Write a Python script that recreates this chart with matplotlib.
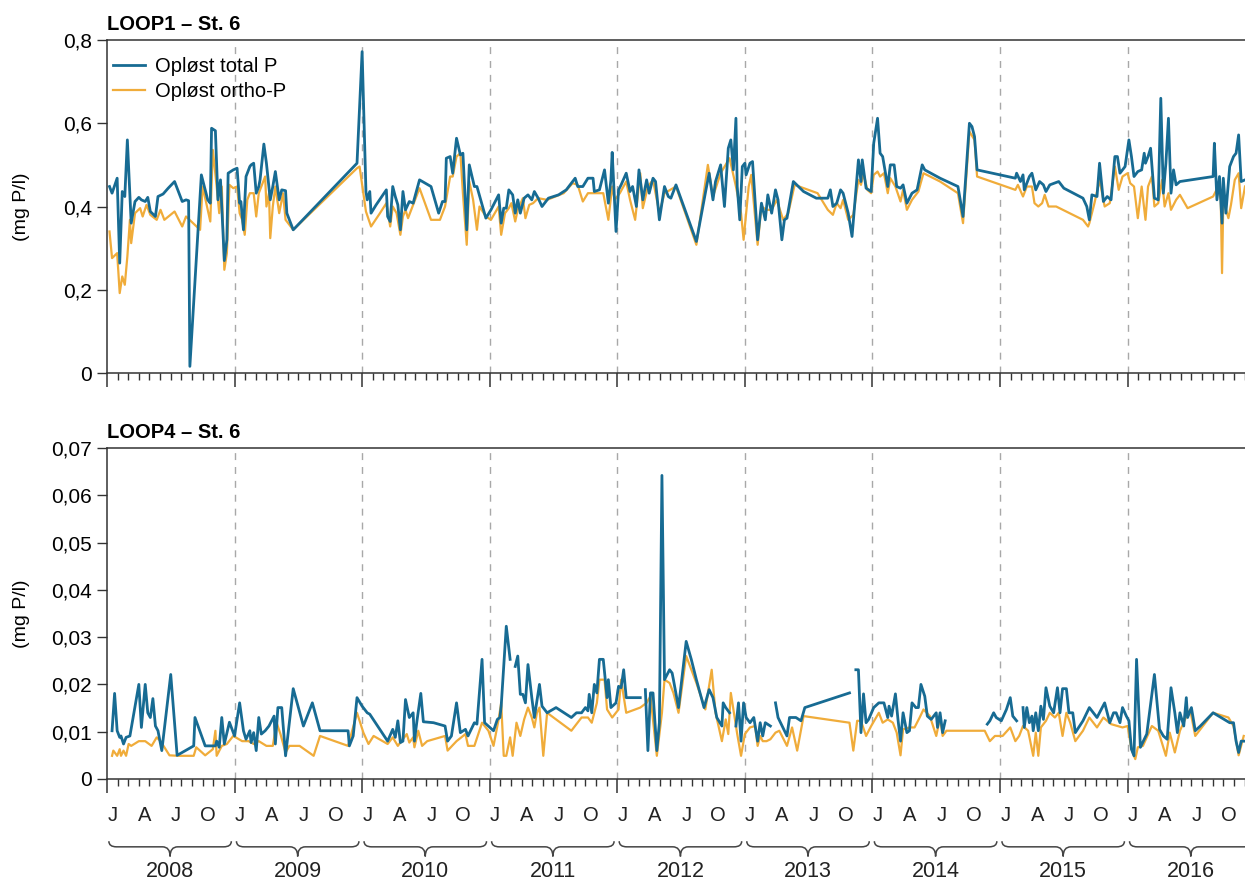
import numpy as np
import matplotlib
matplotlib.use("Agg")
import matplotlib.pyplot as plt
from matplotlib.path import Path
from matplotlib.patches import PathPatch
from matplotlib.transforms import blended_transform_factory

plt.rcParams['font.family'] = ['Liberation Sans', 'DejaVu Sans']

nan = float('nan')

years = list(range(2008, 2017))
month_letters = ['J', 'A', 'J', 'O']
series_labels = ['Opløst total P', 'Opløst ortho-P']
titles = ['LOOP1 – St. 6', 'LOOP4 – St. 6']
ylabel = '(mg P/l)'

# LOOP1 - dissolved total P (decimal year, mg P/l)
loop1_tp_t = [2008.02, 2008.04, 2008.08, 2008.10, 2008.12, 2008.14, 2008.16, 2008.19, 2008.22, 2008.25,
              2008.27, 2008.30, 2008.32, 2008.34, 2008.38, 2008.40, 2008.44, 2008.48, 2008.53, 2008.59,
              2008.62, 2008.64, 2008.65, 2008.74, 2008.79, 2008.81, 2008.82, 2008.85, 2008.87, 2008.89,
              2008.92, 2008.94, 2008.95, 2008.99,
              2009.02, 2009.04, 2009.05, 2009.07, 2009.09, 2009.12, 2009.13, 2009.15, 2009.17, 2009.19,
              2009.20, 2009.23, 2009.25, 2009.28, 2009.30, 2009.32, 2009.35, 2009.37, 2009.40, 2009.41,
              2009.46, 2009.96,
              2010.00, 2010.03, 2010.04, 2010.06, 2010.07, 2010.11, 2010.19, 2010.20, 2010.22, 2010.24,
              2010.26, 2010.28, 2010.30, 2010.32, 2010.34, 2010.37, 2010.40, 2010.45, 2010.54, 2010.60,
              2010.63, 2010.65, 2010.66, 2010.69, 2010.71, 2010.74, 2010.77, 2010.79, 2010.82, 2010.84,
              2010.88, 2010.90, 2010.97,
              2011.01, 2011.07, 2011.09, 2011.11, 2011.13, 2011.15, 2011.18, 2011.20, 2011.22, 2011.24,
              2011.27, 2011.30, 2011.33, 2011.35, 2011.38, 2011.41, 2011.46, 2011.54, 2011.60, 2011.67,
              2011.69, 2011.73, 2011.77, 2011.81, 2011.82, 2011.86, 2011.90, 2011.93, 2011.95, 2011.96,
              2011.99,
              2012.01, 2012.03, 2012.07, 2012.10, 2012.12, 2012.15, 2012.17, 2012.20, 2012.23, 2012.25,
              2012.28, 2012.30, 2012.33, 2012.37, 2012.40, 2012.42, 2012.46, 2012.62, 2012.69, 2012.72,
              2012.75, 2012.77, 2012.81, 2012.84, 2012.87, 2012.89, 2012.91, 2012.93, 2012.94, 2012.96,
              2012.98,
              2013.00, 2013.01, 2013.04, 2013.06, 2013.10, 2013.13, 2013.16, 2013.18, 2013.21, 2013.24,
              2013.26, 2013.29, 2013.31, 2013.33, 2013.38, 2013.46, 2013.56, 2013.65, 2013.67, 2013.69,
              2013.72, 2013.75, 2013.77, 2013.81, 2013.84, 2013.89, 2013.91, 2013.92, 2013.95, 2013.99,
              2014.01, 2014.04, 2014.06, 2014.08, 2014.12, 2014.14, 2014.17, 2014.19, 2014.22, 2014.24,
              2014.27, 2014.31, 2014.35, 2014.39, 2014.41, 2014.53, 2014.67, 2014.71, 2014.76, 2014.78,
              2014.80, 2014.82,
              2015.00, 2015.12, 2015.13, 2015.16, 2015.18, 2015.19, 2015.23, 2015.25, 2015.28, 2015.31,
              2015.34, 2015.36, 2015.39, 2015.46, 2015.50, 2015.65, 2015.68, 2015.70, 2015.72, 2015.76,
              2015.78, 2015.81, 2015.84, 2015.87, 2015.90, 2015.92, 2015.94, 2015.98,
              2016.01, 2016.03, 2016.05, 2016.08, 2016.11, 2016.13, 2016.14, 2016.16, 2016.18, 2016.21,
              2016.24, 2016.26, 2016.28, 2016.30, 2016.32, 2016.34, 2016.36, 2016.38, 2016.41, 2016.67,
              2016.68, 2016.70, 2016.72, 2016.74, 2016.75, 2016.77, 2016.80, 2016.83, 2016.85, 2016.87,
              2016.89, 2016.92]
loop1_tp = [0.448, 0.432, 0.468, 0.264, 0.436, 0.424, 0.56, 0.36, 0.412, 0.422,
            0.416, 0.412, 0.422, 0.388, 0.376, 0.424, 0.43, 0.444, 0.46, 0.412,
            0.416, 0.414, 0.016, 0.476, 0.416, 0.408, 0.588, 0.582, 0.416, 0.464,
            0.27, 0.32, 0.48, 0.488,
            0.492, 0.408, 0.412, 0.344, 0.472, 0.496, 0.5, 0.504, 0.432, 0.448,
            0.464, 0.55, 0.504, 0.416, 0.448, 0.484, 0.416, 0.44, 0.438, 0.384,
            0.344, 0.504,
            0.772, 0.436, 0.416, 0.436, 0.384, 0.404, 0.44, 0.376, 0.364, 0.448,
            0.424, 0.404, 0.344, 0.436, 0.392, 0.412, 0.408, 0.464, 0.448, 0.384,
            0.412, 0.412, 0.516, 0.52, 0.48, 0.564, 0.524, 0.528, 0.344, 0.50,
            0.448, 0.448, 0.372,
            0.392, 0.428, 0.36, 0.396, 0.396, 0.44, 0.428, 0.384, 0.416, 0.384,
            0.42, 0.428, 0.416, 0.436, 0.42, 0.40, 0.42, 0.428, 0.44, 0.468,
            0.448, 0.448, 0.468, 0.468, 0.436, 0.44, 0.488, 0.408, 0.464, 0.53,
            0.34,
            0.44, 0.452, 0.48, 0.436, 0.448, 0.40, 0.488, 0.416, 0.464, 0.432,
            0.468, 0.46, 0.368, 0.448, 0.424, 0.42, 0.452, 0.316, 0.432, 0.48,
            0.416, 0.46, 0.50, 0.40, 0.54, 0.56, 0.488, 0.612, 0.448, 0.368,
            0.496,
            0.504, 0.476, 0.504, 0.508, 0.32, 0.408, 0.368, 0.428, 0.384, 0.44,
            0.416, 0.32, 0.368, 0.372, 0.46, 0.436, 0.42, 0.42, 0.44, 0.40,
            0.408, 0.44, 0.432, 0.384, 0.328, 0.512, 0.46, 0.512, 0.444, 0.436,
            0.552, 0.612, 0.528, 0.52, 0.448, 0.50, 0.50, 0.448, 0.444, 0.452,
            0.408, 0.432, 0.44, 0.50, 0.488, 0.468, 0.448, 0.376, 0.60, 0.592,
            0.568, 0.488,
            0.476, 0.468, 0.48, 0.46, 0.476, 0.44, 0.472, 0.48, 0.44, 0.46,
            0.452, 0.436, 0.452, 0.46, 0.444, 0.42, 0.40, 0.368, 0.428, 0.424,
            0.504, 0.412, 0.424, 0.416, 0.52, 0.52, 0.48, 0.496,
            0.56, 0.52, 0.472, 0.484, 0.488, 0.528, 0.504, 0.52, 0.54, 0.42,
            0.416, 0.66, 0.432, 0.504, 0.612, 0.432, 0.488, 0.452, 0.46, 0.472,
            0.552, 0.416, 0.472, 0.36, 0.468, 0.384, 0.496, 0.52, 0.528, 0.572,
            0.46, 0.464]

# LOOP1 - dissolved ortho-P
loop1_op_t = [2008.02, 2008.04, 2008.08, 2008.10, 2008.12, 2008.14, 2008.16, 2008.18, 2008.19, 2008.22,
              2008.26, 2008.28, 2008.31, 2008.34, 2008.39, 2008.42, 2008.45, 2008.53, 2008.59, 2008.62,
              2008.73, 2008.75, 2008.81, 2008.83, 2008.86, 2008.88, 2008.90, 2008.92, 2008.94, 2008.96,
              2008.99,
              2009.02, 2009.04, 2009.06, 2009.08, 2009.10, 2009.12, 2009.15, 2009.17, 2009.19, 2009.24,
              2009.25, 2009.27, 2009.28, 2009.30, 2009.32, 2009.35, 2009.38, 2009.40, 2009.46, 2009.96,
              2009.98,
              2010.03, 2010.07, 2010.14, 2010.19, 2010.22, 2010.24, 2010.27, 2010.30, 2010.32, 2010.34,
              2010.36, 2010.45, 2010.54, 2010.61, 2010.65, 2010.69, 2010.71, 2010.74, 2010.77, 2010.79,
              2010.82, 2010.84, 2010.87, 2010.90, 2010.92, 2010.97,
              2011.01, 2011.07, 2011.09, 2011.12, 2011.15, 2011.17, 2011.20, 2011.22, 2011.26, 2011.28,
              2011.31, 2011.34, 2011.38, 2011.45, 2011.58, 2011.65, 2011.69, 2011.73, 2011.77, 2011.82,
              2011.89, 2011.93, 2011.96, 2011.98,
              2012.02, 2012.07, 2012.10, 2012.14, 2012.18, 2012.20, 2012.24, 2012.28, 2012.33, 2012.37,
              2012.46, 2012.62, 2012.71, 2012.75, 2012.81, 2012.88, 2012.93, 2012.97, 2012.99,
              2013.03, 2013.05, 2013.10, 2013.13, 2013.17, 2013.21, 2013.25, 2013.30, 2013.34, 2013.39,
              2013.57, 2013.65, 2013.69, 2013.72, 2013.75, 2013.77, 2013.81, 2013.85, 2013.89, 2013.91,
              2013.93, 2013.96, 2013.99,
              2014.01, 2014.04, 2014.06, 2014.09, 2014.12, 2014.14, 2014.18, 2014.22, 2014.24, 2014.27,
              2014.31, 2014.36, 2014.40, 2014.53, 2014.67, 2014.71, 2014.76, 2014.80, 2014.82,
              2015.12, 2015.14, 2015.18, 2015.21, 2015.25, 2015.27, 2015.30, 2015.33, 2015.35, 2015.38,
              2015.44, 2015.65, 2015.69, 2015.70, 2015.74, 2015.78, 2015.82, 2015.86, 2015.90, 2015.93,
              2015.96,
              2016.00, 2016.02, 2016.05, 2016.08, 2016.11, 2016.14, 2016.16, 2016.19, 2016.21, 2016.24,
              2016.27, 2016.29, 2016.32, 2016.34, 2016.38, 2016.41, 2016.47, 2016.67, 2016.71, 2016.73,
              2016.74, 2016.75, 2016.79, 2016.81, 2016.84, 2016.87, 2016.89, 2016.92]
loop1_op = [0.34, 0.276, 0.288, 0.192, 0.232, 0.212, 0.28, 0.368, 0.312, 0.384,
            0.396, 0.376, 0.404, 0.38, 0.368, 0.392, 0.368, 0.388, 0.352, 0.376,
            0.344, 0.448, 0.364, 0.536, 0.448, 0.384, 0.448, 0.248, 0.288, 0.452,
            0.444,
            0.448, 0.384, 0.368, 0.332, 0.416, 0.432, 0.432, 0.376, 0.432, 0.472,
            0.40, 0.432, 0.324, 0.40, 0.448, 0.384, 0.432, 0.368, 0.344, 0.492,
            0.496,
            0.388, 0.352, 0.384, 0.408, 0.352, 0.40, 0.384, 0.332, 0.376, 0.392,
            0.372, 0.444, 0.368, 0.368, 0.40, 0.472, 0.472, 0.52, 0.528, 0.432,
            0.308, 0.46, 0.416, 0.344, 0.40, 0.376,
            0.368, 0.40, 0.332, 0.384, 0.396, 0.408, 0.364, 0.392, 0.42, 0.372,
            0.404, 0.408, 0.42, 0.416, 0.432, 0.456, 0.452, 0.412, 0.432, 0.432,
            0.432, 0.368, 0.448, 0.416,
            0.432, 0.46, 0.416, 0.368, 0.48, 0.396, 0.448, 0.464, 0.384, 0.432,
            0.448, 0.308, 0.50, 0.424, 0.48, 0.516, 0.448, 0.384, 0.32,
            0.448, 0.476, 0.308, 0.40, 0.392, 0.392, 0.416, 0.368, 0.384, 0.452,
            0.432, 0.392, 0.38, 0.408, 0.396, 0.416, 0.368, 0.38, 0.464, 0.452,
            0.48, 0.44, 0.432,
            0.476, 0.484, 0.472, 0.48, 0.432, 0.468, 0.448, 0.412, 0.44, 0.392,
            0.416, 0.436, 0.48, 0.46, 0.432, 0.36, 0.58, 0.56, 0.472,
            0.44, 0.452, 0.424, 0.448, 0.448, 0.408, 0.40, 0.408, 0.428, 0.40,
            0.40, 0.368, 0.352, 0.36, 0.408, 0.464, 0.40, 0.408, 0.496, 0.44,
            0.472,
            0.48, 0.456, 0.448, 0.372, 0.448, 0.368, 0.448, 0.472, 0.40, 0.408,
            0.464, 0.40, 0.432, 0.392, 0.416, 0.428, 0.396, 0.424, 0.448, 0.416,
            0.24, 0.416, 0.372, 0.404, 0.464, 0.48, 0.396, 0.448]

# LOOP4 - dissolved total P (nan = gap in the line)
loop4_tp_t = [2008.04, 2008.06, 2008.08, 2008.10, 2008.11, 2008.13, 2008.15, 2008.18, 2008.25, 2008.27,
              2008.30, 2008.32, 2008.34, 2008.36, 2008.38, 2008.40, 2008.43, 2008.50, 2008.55, 2008.68,
              2008.69, 2008.77, 2008.85, 2008.86, 2008.88, 2008.90, 2008.92, 2008.96,
              2009.00, 2009.04, 2009.07, 2009.09, 2009.12, 2009.13, 2009.15, 2009.17, 2009.19, 2009.21,
              2009.24, 2009.27, 2009.31, 2009.32, 2009.34, 2009.37, 2009.40, 2009.46, 2009.54, 2009.61,
              2009.67, 2009.89, 2009.90, 2009.93, 2009.96,
              2010.00, 2010.04, 2010.06, 2010.20, 2010.24, 2010.26, 2010.28, 2010.30, 2010.32, 2010.34,
              2010.37, 2010.40, 2010.41, 2010.43, 2010.46, 2010.48, 2010.56, 2010.65, 2010.67, 2010.70,
              2010.74, 2010.77, 2010.81, 2010.83, 2010.88, 2010.90, 2010.94, 2010.96,
              2011.03, 2011.06, 2011.08, 2011.09, 2011.13, 2011.16, nan, 2011.20, 2011.22, 2011.24,
              2011.26, 2011.28, 2011.30, 2011.33, 2011.35, 2011.39, 2011.41, 2011.45, 2011.52, 2011.64,
              2011.68, 2011.72, 2011.75, 2011.77, 2011.78, 2011.80, 2011.82, 2011.84, 2011.86, 2011.89,
              2011.92, 2011.93, 2011.95, 2011.99,
              2012.01, 2012.03, 2012.05, 2012.07, 2012.18, nan, 2012.22, 2012.24, 2012.26, 2012.28,
              2012.31, 2012.33, 2012.35, 2012.37, 2012.41, 2012.43, 2012.44, 2012.48, 2012.54, 2012.58,
              2012.62, 2012.68, 2012.72, 2012.75, 2012.78, 2012.82, 2012.83, 2012.85, 2012.88, nan,
              2012.93, 2012.95, 2012.97, 2012.99,
              2013.01, 2013.04, 2013.07, 2013.10, 2013.12, 2013.14, 2013.16, 2013.20, nan, 2013.24,
              2013.26, 2013.33, 2013.35, 2013.40, 2013.44, 2013.47, 2013.82, nan, 2013.87, 2013.89,
              2013.91, 2013.93, 2013.95, 2013.97,
              2014.01, 2014.05, 2014.09, 2014.12, 2014.13, 2014.15, 2014.18, 2014.20, 2014.22, 2014.24,
              2014.25, 2014.27, 2014.29, 2014.31, 2014.34, 2014.36, 2014.38, 2014.41, 2014.43, 2014.46,
              2014.50, 2014.51, 2014.53, 2014.55, 2014.57, nan, 2014.90, 2014.92, 2014.95, 2014.97,
              2015.01, 2015.05, 2015.08, 2015.10, 2015.13, nan, 2015.18, 2015.19, 2015.21, 2015.23,
              2015.25, 2015.26, 2015.28, 2015.30, 2015.32, 2015.34, 2015.36, 2015.39, 2015.42, 2015.45,
              2015.47, 2015.49, 2015.52, 2015.54, 2015.57, 2015.59, 2015.65, 2015.70, 2015.76, 2015.82,
              2015.86, 2015.89, 2015.91, 2015.94, 2015.96, 2015.99,
              2016.01, 2016.03, 2016.05, 2016.07, 2016.10, 2016.15, 2016.21, 2016.25, 2016.28, 2016.31,
              2016.34, 2016.37, 2016.39, 2016.41, 2016.44, 2016.46, 2016.47, 2016.50, 2016.53, 2016.57,
              2016.67, 2016.80, 2016.83, 2016.85, 2016.87, 2016.89, 2016.92]
loop4_tp = [0.0102, 0.0181, 0.0102, 0.0088, 0.0091, 0.0074, 0.0088, 0.0091, 0.020, 0.0109,
            0.020, 0.014, 0.013, 0.017, 0.0112, 0.0102, 0.006, 0.0221, 0.005, 0.007,
            0.013, 0.007, 0.007, 0.008, 0.0067, 0.013, 0.0074, 0.012,
            0.0091, 0.0161, 0.0102, 0.0084, 0.0102, 0.0077, 0.0098, 0.006, 0.013, 0.0095,
            0.0102, 0.0112, 0.0133, 0.0074, 0.0151, 0.0151, 0.0049, 0.0191, 0.0112, 0.0161,
            0.0102, 0.0102, 0.007, 0.0091, 0.0172,
            0.0154, 0.014, 0.0137, 0.008, 0.0105, 0.0088, 0.0123, 0.0077, 0.008, 0.0168,
            0.013, 0.014, 0.008, 0.0123, 0.0181, 0.0121, 0.0119, 0.0112, 0.008, 0.0091,
            0.0161, 0.0098, 0.0105, 0.0091, 0.0119, 0.0116, 0.0253, 0.0119,
            0.0102, 0.0126, 0.013, 0.0154, 0.0323, 0.0253, nan, 0.0238, 0.026, 0.0179,
            0.0179, 0.0161, 0.0242, 0.0172, 0.013, 0.020, 0.0154, 0.014, 0.0151, 0.013,
            0.014, 0.014, 0.0151, 0.0144, 0.0179, 0.014, 0.020, 0.0182, 0.0253, 0.0253,
            0.0172, 0.021, 0.0151, 0.0161,
            0.0196, 0.0193, 0.0231, 0.0172, 0.0172, nan, 0.0189, 0.006, 0.0182, 0.0182,
            0.006, 0.0119, 0.0642, 0.021, 0.0231, 0.0224, 0.021, 0.0151, 0.0291, 0.0253,
            0.021, 0.0151, 0.0189, 0.0172, 0.013, 0.0112, 0.0161, 0.0151, 0.014, nan,
            0.0112, 0.0161, 0.008, 0.0161,
            0.013, 0.0119, 0.013, 0.008, 0.0119, 0.0091, 0.0119, 0.0112, nan, 0.0161,
            0.013, 0.0091, 0.013, 0.013, 0.0123, 0.0151, 0.0182, nan, 0.0231, 0.0231,
            0.0098, 0.018, 0.0119, 0.0126,
            0.0151, 0.0161, 0.0161, 0.013, 0.0154, 0.0133, 0.018, 0.0126, 0.008, 0.014,
            0.0126, 0.0098, 0.0102, 0.0161, 0.0151, 0.0151, 0.020, 0.0175, 0.0133, 0.0126,
            0.014, 0.0109, 0.014, 0.0098, 0.0123, nan, 0.0116, 0.0123, 0.014, 0.013,
            0.0123, 0.0147, 0.0172, 0.0133, 0.0123, nan, 0.0151, 0.0109, 0.0151, 0.0119,
            0.0133, 0.0102, 0.014, 0.0102, 0.0154, 0.0126, 0.0193, 0.0154, 0.014, 0.0193,
            0.014, 0.0191, 0.0191, 0.014, 0.014, 0.0098, 0.0123, 0.0151, 0.013, 0.0161,
            0.0119, 0.014, 0.014, 0.0119, 0.0151, 0.0133,
            0.0123, 0.0063, 0.0049, 0.0253, 0.0067, 0.0095, 0.0221, 0.0105, 0.0091, 0.0084,
            0.0193, 0.014, 0.0098, 0.014, 0.0112, 0.0172, 0.013, 0.0151, 0.0102, 0.0112,
            0.014, 0.0119, 0.0119, 0.008, 0.0056, 0.008, 0.008]

# LOOP4 - dissolved ortho-P
loop4_op_t = [2008.04, 2008.05, 2008.08, 2008.10, 2008.11, 2008.13, 2008.15, 2008.17, 2008.19, 2008.25,
              2008.30, 2008.35, 2008.39, 2008.42, 2008.49, 2008.56, 2008.68, 2008.70, 2008.77, 2008.83,
              2008.85, 2008.86, 2008.90, 2008.94, 2008.99,
              2009.06, 2009.11, 2009.15, 2009.19, 2009.25, 2009.30, 2009.33, 2009.36, 2009.40, 2009.43,
              2009.51, 2009.62, 2009.67, 2009.89, 2009.96,
              2010.01, 2010.05, 2010.09, 2010.20, 2010.24, 2010.28, 2010.35, 2010.37, 2010.40, 2010.41,
              2010.44, 2010.47, 2010.51, 2010.65, 2010.67, 2010.74, 2010.81, 2010.83, 2010.88, 2010.94,
              2010.99,
              2011.03, 2011.07, 2011.09, 2011.11, 2011.13, 2011.16, 2011.18, 2011.21, 2011.24, 2011.27,
              2011.30, 2011.33, 2011.35, 2011.37, 2011.39, 2011.42, 2011.45, 2011.52, 2011.64, 2011.72,
              2011.77, 2011.80, 2011.84, 2011.86, 2011.90, 2011.92, 2011.96,
              2012.01, 2012.03, 2012.07, 2012.18, 2012.23, 2012.26, 2012.31, 2012.35, 2012.37, 2012.41,
              2012.44, 2012.48, 2012.54, 2012.62, 2012.69, 2012.74, 2012.77, 2012.82, 2012.85, 2012.87,
              2012.89, 2012.94, 2012.97,
              2013.00, 2013.04, 2013.08, 2013.10, 2013.12, 2013.14, 2013.17, 2013.20, 2013.24, 2013.27,
              2013.33, 2013.37, 2013.41, 2013.46, 2013.82, 2013.85, 2013.88, 2013.91, 2013.95, 2013.99,
              2014.05, 2014.08, 2014.12, 2014.16, 2014.19, 2014.22, 2014.24, 2014.29, 2014.33, 2014.37,
              2014.40, 2014.45, 2014.50, 2014.53, 2014.55, 2014.58, 2014.88, 2014.92, 2014.96,
              2015.02, 2015.08, 2015.12, 2015.15, 2015.18, 2015.22, 2015.26, 2015.28, 2015.30, 2015.32,
              2015.36, 2015.39, 2015.43, 2015.46, 2015.49, 2015.52, 2015.55, 2015.59, 2015.65, 2015.70,
              2015.76, 2015.81, 2015.87, 2015.96,
              2016.00, 2016.03, 2016.06, 2016.08, 2016.12, 2016.19, 2016.24, 2016.30, 2016.33, 2016.37,
              2016.41, 2016.45, 2016.49, 2016.53, 2016.59, 2016.67, 2016.79, 2016.83, 2016.87, 2016.91]
loop4_op = [0.0049, 0.006, 0.0049, 0.0063, 0.0049, 0.006, 0.0049, 0.0074, 0.007, 0.008,
            0.008, 0.007, 0.0088, 0.008, 0.005, 0.0049, 0.0049, 0.0067, 0.005, 0.0063,
            0.0102, 0.0049, 0.007, 0.0074, 0.0091,
            0.008, 0.008, 0.0074, 0.008, 0.007, 0.007, 0.0119, 0.0095, 0.0056, 0.007,
            0.007, 0.0049, 0.0091, 0.007, 0.014,
            0.0098, 0.0074, 0.0091, 0.0074, 0.0088, 0.007, 0.0095, 0.0077, 0.0088, 0.0067,
            0.0102, 0.007, 0.008, 0.0091, 0.006, 0.008, 0.0095, 0.007, 0.007, 0.0119,
            0.0102,
            0.007, 0.0126, 0.0161, 0.0049, 0.0049, 0.0088, 0.0049, 0.0119, 0.0091, 0.0126,
            0.0151, 0.013, 0.0109, 0.014, 0.0151, 0.0049, 0.014, 0.0126, 0.0102, 0.013,
            0.013, 0.0119, 0.0161, 0.021, 0.021, 0.0147, 0.013,
            0.0147, 0.021, 0.014, 0.0151, 0.0161, 0.0175, 0.0049, 0.014, 0.021, 0.0203,
            0.0182, 0.014, 0.026, 0.0203, 0.0147, 0.0231, 0.014, 0.008, 0.0126, 0.0095,
            0.0182, 0.0095, 0.0049,
            0.0095, 0.0109, 0.0112, 0.007, 0.0091, 0.008, 0.008, 0.0084, 0.0098, 0.0102,
            0.007, 0.0109, 0.006, 0.0133, 0.0119, 0.006, 0.0123, 0.0123, 0.0091, 0.0112,
            0.014, 0.0119, 0.0126, 0.0119, 0.0098, 0.005, 0.0105, 0.0109, 0.0109, 0.013,
            0.0147, 0.0133, 0.0091, 0.013, 0.0091, 0.0102, 0.0102, 0.008, 0.0091,
            0.0091, 0.0109, 0.008, 0.0091, 0.0112, 0.0102, 0.0049, 0.0098, 0.0049, 0.0109,
            0.0123, 0.014, 0.013, 0.014, 0.0091, 0.014, 0.0119, 0.008, 0.0102, 0.013,
            0.0109, 0.013, 0.0116, 0.0109,
            0.0112, 0.0063, 0.0042, 0.0067, 0.007, 0.0112, 0.0102, 0.0049, 0.0098, 0.0056,
            0.0102, 0.0126, 0.0147, 0.0091, 0.0112, 0.014, 0.013, 0.0112, 0.005, 0.0091]

loop1_yticks = [0, 0.2, 0.4, 0.6, 0.8]
loop1_yticklabels = ['0', '0,2', '0,4', '0,6', '0,8']
loop4_yticks = [0, 0.01, 0.02, 0.03, 0.04, 0.05, 0.06, 0.07]
loop4_yticklabels = ['0', '0,01', '0,02', '0,03', '0,04', '0,05', '0,06', '0,07']

BLUE = '#176b93'
ORANGE = '#f0ac3a'
DARK = '#333333'

fig = plt.figure(figsize=(12.45, 8.81), dpi=100)
ax1 = fig.add_axes([0.0859, 0.5766, 0.9141, 0.378])
ax2 = fig.add_axes([0.0859, 0.1158, 0.9141, 0.3757])


def setup(ax, yticks, yticklabels, title, title_y):
    ax.set_xlim(2008, 2016.92)
    ax.set_ylim(yticks[0], yticks[-1])
    ax.set_yticks(yticks)
    ax.set_yticklabels(yticklabels)
    ax.set_xticks(years)
    ax.set_xticks([y + m / 12 for y in years for m in range(1, 12)], minor=True)
    ax.set_xticklabels([])
    ax.tick_params(axis='x', which='major', length=10, width=1.1, color=DARK, direction='out')
    ax.tick_params(axis='x', which='minor', length=5, width=1.0, color=DARK, direction='out')
    ax.tick_params(axis='y', length=7, width=1.0, color=DARK, labelsize=15, pad=4)
    ax.spines['right'].set_visible(False)
    for s in ['left', 'top', 'bottom']:
        ax.spines[s].set_color(DARK)
        ax.spines[s].set_linewidth(1.1)
    for y in years[1:]:
        ax.axvline(y, color='#a8a8a8', lw=1.0, ls=(0, (5, 5)), zorder=0)
    fig.text(0.0859, title_y, title, fontsize=14.5, fontweight='bold', va='baseline', ha='left')
    ax.set_ylabel(ylabel, fontsize=14)
    # same label position for both panels
    ax.yaxis.set_label_coords(-0.068, 0.5)


setup(ax1, loop1_yticks, loop1_yticklabels, titles[0], 0.966)
setup(ax2, loop4_yticks, loop4_yticklabels, titles[1], 0.503)

for ax, (tp_t, tp, op_t, op) in zip(
        [ax1, ax2],
        [(loop1_tp_t, loop1_tp, loop1_op_t, loop1_op),
         (loop4_tp_t, loop4_tp, loop4_op_t, loop4_op)]):
    ax.plot(op_t, op, color=ORANGE, lw=1.6, zorder=2, label=series_labels[1])
    ax.plot(tp_t, tp, color=BLUE, lw=2.0, zorder=3, label=series_labels[0])

handles, labels = ax1.get_legend_handles_labels()
ax1.legend(handles[::-1], labels[::-1], loc='upper left', bbox_to_anchor=(0.0, 0.966),
           frameon=False, fontsize=14.5, handlelength=1.6, handletextpad=0.5,
           labelspacing=0.3, borderaxespad=0.0, borderpad=0.3)

# month letters, braces and years under the lower panel
tr = blended_transform_factory(ax2.transData, ax2.transAxes)
for y in years:
    for i, letter in enumerate(month_letters):
        ax2.text(y + (3 * i + 0.5) / 12, -0.11, letter, transform=tr, ha='center', va='center',
                 fontsize=14.5, color='#222222', clip_on=False)
    x0, x1 = y + 0.015, y + 0.975
    xm = (x0 + x1) / 2
    d = 0.06
    yt, ym, yb = -0.188, -0.205, -0.234
    verts = [(x0, yt), (x0, ym), (x0 + d, ym),
             (xm - d, ym), (xm, ym), (xm, yb),
             (xm, ym), (xm + d, ym),
             (x1 - d, ym), (x1, ym), (x1, yt)]
    codes = [Path.MOVETO, Path.CURVE3, Path.CURVE3,
             Path.LINETO, Path.CURVE3, Path.CURVE3,
             Path.CURVE3, Path.CURVE3,
             Path.LINETO, Path.CURVE3, Path.CURVE3]
    ax2.add_patch(PathPatch(Path(verts, codes), transform=tr, fill=False, lw=1.1,
                            ec='#444444', clip_on=False))
    ax2.text(xm, -0.281, str(y), transform=tr, ha='center', va='center', fontsize=15.5,
             color='#222222', clip_on=False)

fig.savefig('out.png', dpi=100)
